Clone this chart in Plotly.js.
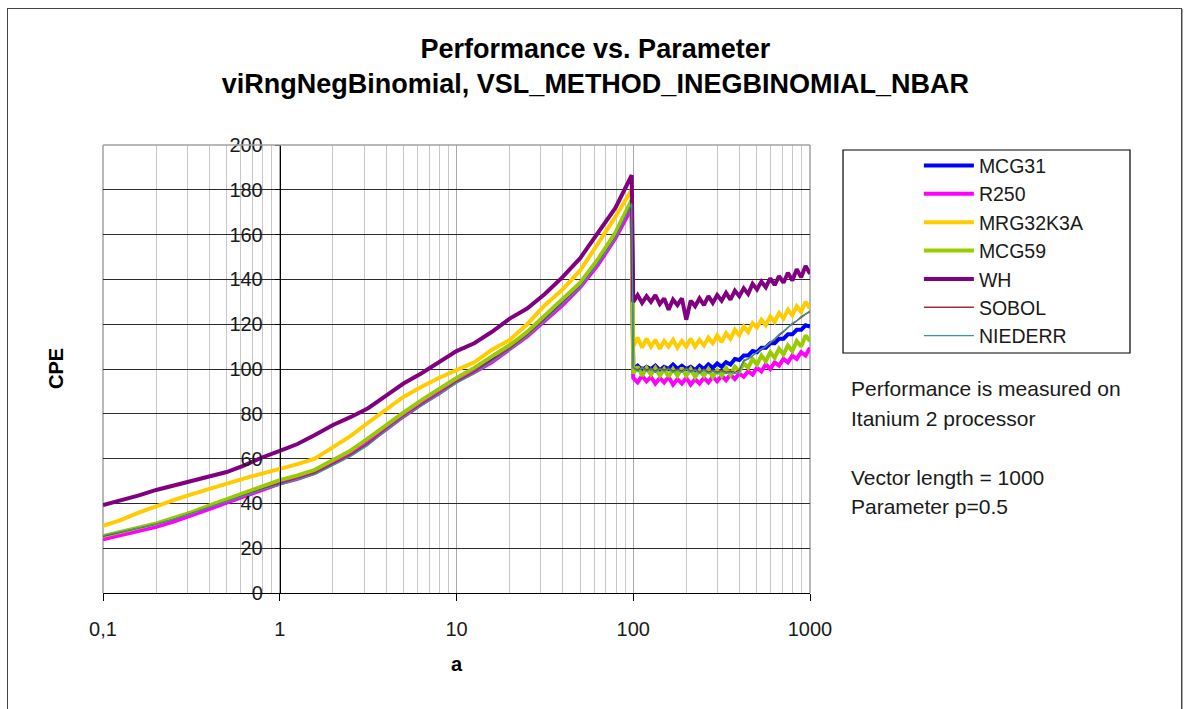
<!DOCTYPE html>
<html><head><meta charset="utf-8">
<script src="https://cdn.plot.ly/plotly-3.0.1.min.js"></script>
<style>
html,body{margin:0;padding:0;background:#fff;}
#wrap{position:relative;width:1186px;height:709px;overflow:hidden;}
#chart{width:1186px;height:709px;}
#frame{position:absolute;left:7px;top:8px;width:1173px;height:720px;border:1.5px solid #444;box-shadow:1px 1px 0 #aaa;pointer-events:none;}
</style></head>
<body>
<div id="wrap"><div id="chart"></div><div id="frame"></div></div>
<script>
// parameter a (log scale)
const A_LOW = [0.1, 0.126, 0.158, 0.2, 0.251, 0.316, 0.398, 0.501, 0.631, 0.794, 1, 1.26, 1.58, 2, 2.51, 3.16, 3.98, 5.01, 6.31, 7.94, 10, 12.6, 15.8, 20, 25.1, 31.6, 39.8, 50.1, 63.1, 79.4, 98];
const A_HIGH = [100, 105.9, 112.2, 118.9, 125.9, 133.4, 141.3, 149.6, 158.5, 167.9, 177.8, 188.4, 199.5, 211.3, 223.9, 237.1, 251.2, 266.1, 281.8, 298.5, 316.2, 335.0, 354.8, 375.8, 398.1, 421.7, 446.7, 473.2, 501.2, 530.9, 562.3, 595.7, 631.0, 668.3, 707.9, 749.9, 794.3, 841.4, 891.3, 944.1, 1000];

const MCG31_LOW = [25.0, 26.8, 28.6, 30.5, 32.8, 35.3, 38.2, 41.0, 43.9, 46.8, 49.5, 51.7, 54.3, 58.5, 62.3, 67.5, 73.5, 79.2, 84.8, 89.8, 95.0, 99.2, 104.0, 109.5, 115.5, 122.5, 129.5, 137.0, 147.5, 159.0, 173.0];
const MCG31_HIGH = [100, 101.5, 99.5, 101, 100, 101.5, 99.5, 101, 100, 102, 100, 101.5, 100, 101, 99.5, 101.5, 100, 102, 100.5, 102.5, 101, 103, 102, 104.5, 104, 106, 106, 108, 107.5, 109.5, 109.5, 111.5, 111.5, 113.5, 113.5, 115.5, 115.5, 117.5, 117.5, 119.5, 119];

const R250_LOW = [24.0, 25.8, 27.6, 29.6, 31.9, 34.5, 37.4, 40.3, 43.2, 46.0, 48.8, 51.0, 53.6, 57.8, 61.8, 67.0, 73.0, 78.8, 84.2, 89.0, 94.5, 98.5, 103.0, 108.8, 114.5, 121.5, 128.5, 136.5, 146.5, 158.5, 172.0];
const R250_HIGH = [96, 94, 97, 94.5, 96.5, 93.5, 96, 94, 96.5, 93, 95.5, 93.5, 96, 93, 95.5, 93.5, 96, 94, 96.5, 94.5, 97, 95, 97.5, 95.5, 98, 96.5, 99, 97.5, 100.5, 99, 102, 100, 103, 101.5, 104.5, 103, 106, 104.5, 107.5, 106, 109.5];

const MRG32K3A_LOW = [30.0, 32.5, 35.8, 38.8, 41.5, 44.0, 46.5, 49.0, 51.2, 53.3, 55.3, 57.5, 60.0, 65.0, 70.0, 76.0, 82.0, 87.5, 92.0, 96.0, 99.5, 103.0, 108.5, 113.0, 120.0, 128.5, 135.5, 144.0, 156.0, 168.0, 180.0];
const MRG32K3A_HIGH = [110, 114, 109.5, 113.5, 110, 113, 109, 112.5, 110, 113, 109.5, 112.5, 110, 113.5, 110, 113, 110.5, 114, 111.5, 115, 112, 116, 113.5, 117.5, 115, 119, 116.5, 120.5, 118.5, 122, 119.5, 123.5, 121, 125, 122.5, 126.5, 124, 128, 125.5, 130, 127];

const MCG59_LOW = [25.4, 27.3, 29.2, 31.1, 33.5, 36.0, 39.0, 41.8, 44.8, 47.7, 50.4, 52.5, 55.0, 59.4, 63.5, 69.0, 75.0, 80.5, 86.0, 91.0, 96.0, 100.5, 105.5, 110.7, 116.5, 124.0, 131.0, 138.5, 149.0, 161.0, 175.5];
const MCG59_HIGH = [98, 101, 97, 100.5, 97.5, 100.5, 97, 100, 96.5, 100, 97, 100.5, 97, 100, 96.5, 99.5, 97, 100, 96.5, 99.5, 97, 100.5, 97.5, 101, 99, 102.5, 100.5, 104.5, 102, 106, 103.5, 107.5, 105, 109, 106.5, 110.5, 108, 112.5, 110, 115, 112.5];

const WH_LOW = [39.3, 41.3, 43.5, 46.0, 48.0, 50.0, 52.0, 54.0, 57.0, 60.5, 63.5, 66.5, 70.5, 75.0, 78.5, 82.5, 88.0, 93.5, 98.0, 103.0, 108.0, 111.5, 116.5, 122.5, 127.0, 133.5, 141.0, 149.5, 160.5, 172.0, 186.5];
const WH_HIGH = [130, 133, 129.5, 132.5, 130, 133, 129, 131.5, 126.5, 131, 128.5, 131.5, 122, 130.5, 128, 131.5, 128.5, 132.5, 129.5, 133, 130.5, 134, 131, 135, 132.5, 136, 133.5, 138, 135.5, 139, 136.5, 140.5, 137.5, 141.5, 138.5, 143, 139.5, 144.5, 141, 146, 142.5];

const SOBOL_LOW = [25.3, 27.0, 28.8, 30.7, 32.9, 35.4, 38.2, 40.9, 43.7, 46.4, 48.9, 51.1, 53.6, 57.7, 61.6, 66.7, 73.0, 78.8, 84.1, 89.1, 94.3, 98.6, 103.5, 109.0, 115.0, 122.0, 129.2, 136.8, 147.2, 158.8, 173.5];
const SOBOL_HIGH = [100.5, 99.5, 101, 99.5, 100.5, 99, 100.5, 99.5, 100.5, 99, 100, 99, 100.5, 99, 100, 98.5, 100, 98.5, 99.5, 98.5, 99.5, 98.5, 99, 98.5, 99.5, 103.5, 104.5, 106, 107.5, 108.5, 110, 111.5, 113, 115, 116.5, 118.5, 120, 121.5, 123, 124.5, 125.5];

const NIEDERR_LOW = [25.6, 27.3, 29.0, 30.8, 33.0, 35.4, 38.2, 40.8, 43.5, 46.0, 48.3, 50.5, 53.0, 57.0, 61.0, 66.0, 72.5, 78.5, 83.5, 88.5, 93.7, 98.0, 103.0, 108.5, 114.5, 121.5, 129.0, 136.5, 147.0, 158.5, 174.0];
const NIEDERR_HIGH = [100.5, 99, 100.5, 99, 100, 98.5, 100, 99, 100, 98.5, 99.5, 98.5, 100, 98.5, 99.5, 98, 99.5, 98, 99, 98, 99, 98, 98.5, 98, 98.5, 104, 104.5, 106, 107.5, 109, 110, 112, 113.5, 115.5, 117, 118.5, 120.5, 121.5, 123.5, 124.5, 126];

const SERIES_NAMES = ['MCG31', 'R250', 'MRG32K3A', 'MCG59', 'WH', 'SOBOL', 'NIEDERR'];
const SERIES_LOW = [MCG31_LOW, R250_LOW, MRG32K3A_LOW, MCG59_LOW, WH_LOW, SOBOL_LOW, NIEDERR_LOW];
const SERIES_HIGH = [MCG31_HIGH, R250_HIGH, MRG32K3A_HIGH, MCG59_HIGH, WH_HIGH, SOBOL_HIGH, NIEDERR_HIGH];
const COLORS = ['#0000ff', '#ff00ff', '#ffcc00', '#99cc00', '#800080', '#993333', '#339999'];
const WIDTHS = [4, 4, 4, 4, 4, 1.3, 1.3];

const X_TICKS = [0.1, 1, 10, 100, 1000];
const X_TICK_TEXT = ['0,1', '1', '10', '100', '1000'];
const Y_TICKS = [0, 20, 40, 60, 80, 100, 120, 140, 160, 180, 200];

const NOTES = ['Performance is measured on', 'Itanium 2 processor', 'Vector length = 1000', 'Parameter p=0.5'];

const aAll = A_LOW.concat(A_HIGH);
const traces = SERIES_NAMES.map((name, i) => ({
  type: 'scatter', mode: 'lines', name: name,
  x: aAll, y: SERIES_LOW[i].concat(SERIES_HIGH[i]),
  line: {color: COLORS[i], width: WIDTHS[i]}
}));

const minorVals = [];
[0.1, 1, 10, 100].forEach(d => { for (let k = 2; k <= 9; k++) minorVals.push(d * k); });

const FONT = '"Liberation Sans", Arial, sans-serif';
const txtColor = '#1a1a1a';
const noteFont = {family: FONT, size: 21, color: txtColor};

const layout = {
  width: 1186, height: 709,
  margin: {l: 103, r: 376, t: 145, b: 116, pad: 0},
  paper_bgcolor: '#fff', plot_bgcolor: '#fff',
  font: {family: FONT, size: 20, color: txtColor},
  showlegend: true,
  title: {
    text: '<b>Performance vs. Parameter</b><br><b>viRngNegBinomial, VSL_METHOD_INEGBINOMIAL_NBAR</b>',
    font: {family: FONT, size: 27, color: '#000'},
    x: 0.502, xref: 'container', xanchor: 'center',
    y: 0.918, yref: 'container', yanchor: 'middle'
  },
  xaxis: {
    type: 'log', range: [-1, 3], domain: [0, 1],
    tickmode: 'array', tickvals: X_TICKS, ticktext: X_TICK_TEXT,
    ticks: 'outside', ticklen: 7, tickcolor: '#000', tickwidth: 1,
    ticklabelstandoff: 11,
    showline: true, linecolor: '#000', linewidth: 1.2,
    showgrid: true, gridcolor: '#a8a8a8', gridwidth: 1,
    minor: {tickmode: 'array', tickvals: minorVals, showgrid: true, gridcolor: '#c8c8c8', gridwidth: 1, ticks: ''},
    zeroline: false,
    tickfont: {family: FONT, size: 20, color: txtColor},
    title: {text: '<b>a</b>', font: {family: FONT, size: 20, color: '#000'}, standoff: 17}
  },
  yaxis: {
    range: [0, 200], anchor: 'free', position: 0.25,
    tickmode: 'array', tickvals: Y_TICKS,
    ticks: 'outside', ticklen: 5, tickcolor: '#000', tickwidth: 1,
    ticklabelstandoff: 8,
    showline: true, linecolor: '#000', linewidth: 1.2,
    showgrid: true, gridcolor: '#2a2a2a', gridwidth: 1,
    zeroline: false,
    tickfont: {family: FONT, size: 20, color: txtColor}
  },
  legend: {
    x: 1.154, xanchor: 'left', y: 0.997, yanchor: 'top',
    bgcolor: 'rgba(0,0,0,0)', borderwidth: 0,
    font: {family: FONT, size: 19.5, color: txtColor},
    traceorder: 'normal', itemwidth: 50
  },
  shapes: [
    {type: 'rect', xref: 'paper', yref: 'paper', x0: 1.0467, x1: 1.4526, y0: 0.5357, y1: 0.9888, line: {color: '#000', width: 1.2}},
    {type: 'line', xref: 'paper', yref: 'paper', x0: 0, x1: 1, y0: 1, y1: 1, line: {color: '#a0a0a0', width: 1.5}, layer: 'above'},
    {type: 'line', xref: 'paper', yref: 'paper', x0: 0, x1: 0, y0: 0, y1: 1, line: {color: '#a0a0a0', width: 1.5}, layer: 'below'},
    {type: 'line', xref: 'paper', yref: 'paper', x0: 1, x1: 1, y0: 0, y1: 1, line: {color: '#a0a0a0', width: 1.5}, layer: 'below'}
  ],
  annotations: [
    {text: '<b>CPE</b>', xref: 'paper', yref: 'paper', x: -0.0665, y: 0.5022, textangle: -90, showarrow: false,
     font: {family: FONT, size: 20, color: '#000'}, xanchor: 'center', yanchor: 'middle'},
    {text: NOTES[0], xref: 'paper', yref: 'paper', x: 1.0552, y: 0.4554, showarrow: false, xanchor: 'left', yanchor: 'middle', font: noteFont},
    {text: NOTES[1], xref: 'paper', yref: 'paper', x: 1.0552, y: 0.3884, showarrow: false, xanchor: 'left', yanchor: 'middle', font: noteFont},
    {text: NOTES[2], xref: 'paper', yref: 'paper', x: 1.0552, y: 0.2589, showarrow: false, xanchor: 'left', yanchor: 'middle', font: noteFont},
    {text: NOTES[3], xref: 'paper', yref: 'paper', x: 1.0552, y: 0.1920, showarrow: false, xanchor: 'left', yanchor: 'middle', font: noteFont}
  ]
};

Plotly.newPlot('chart', traces, layout, {staticPlot: true, displayModeBar: false});
</script>
</body></html>
